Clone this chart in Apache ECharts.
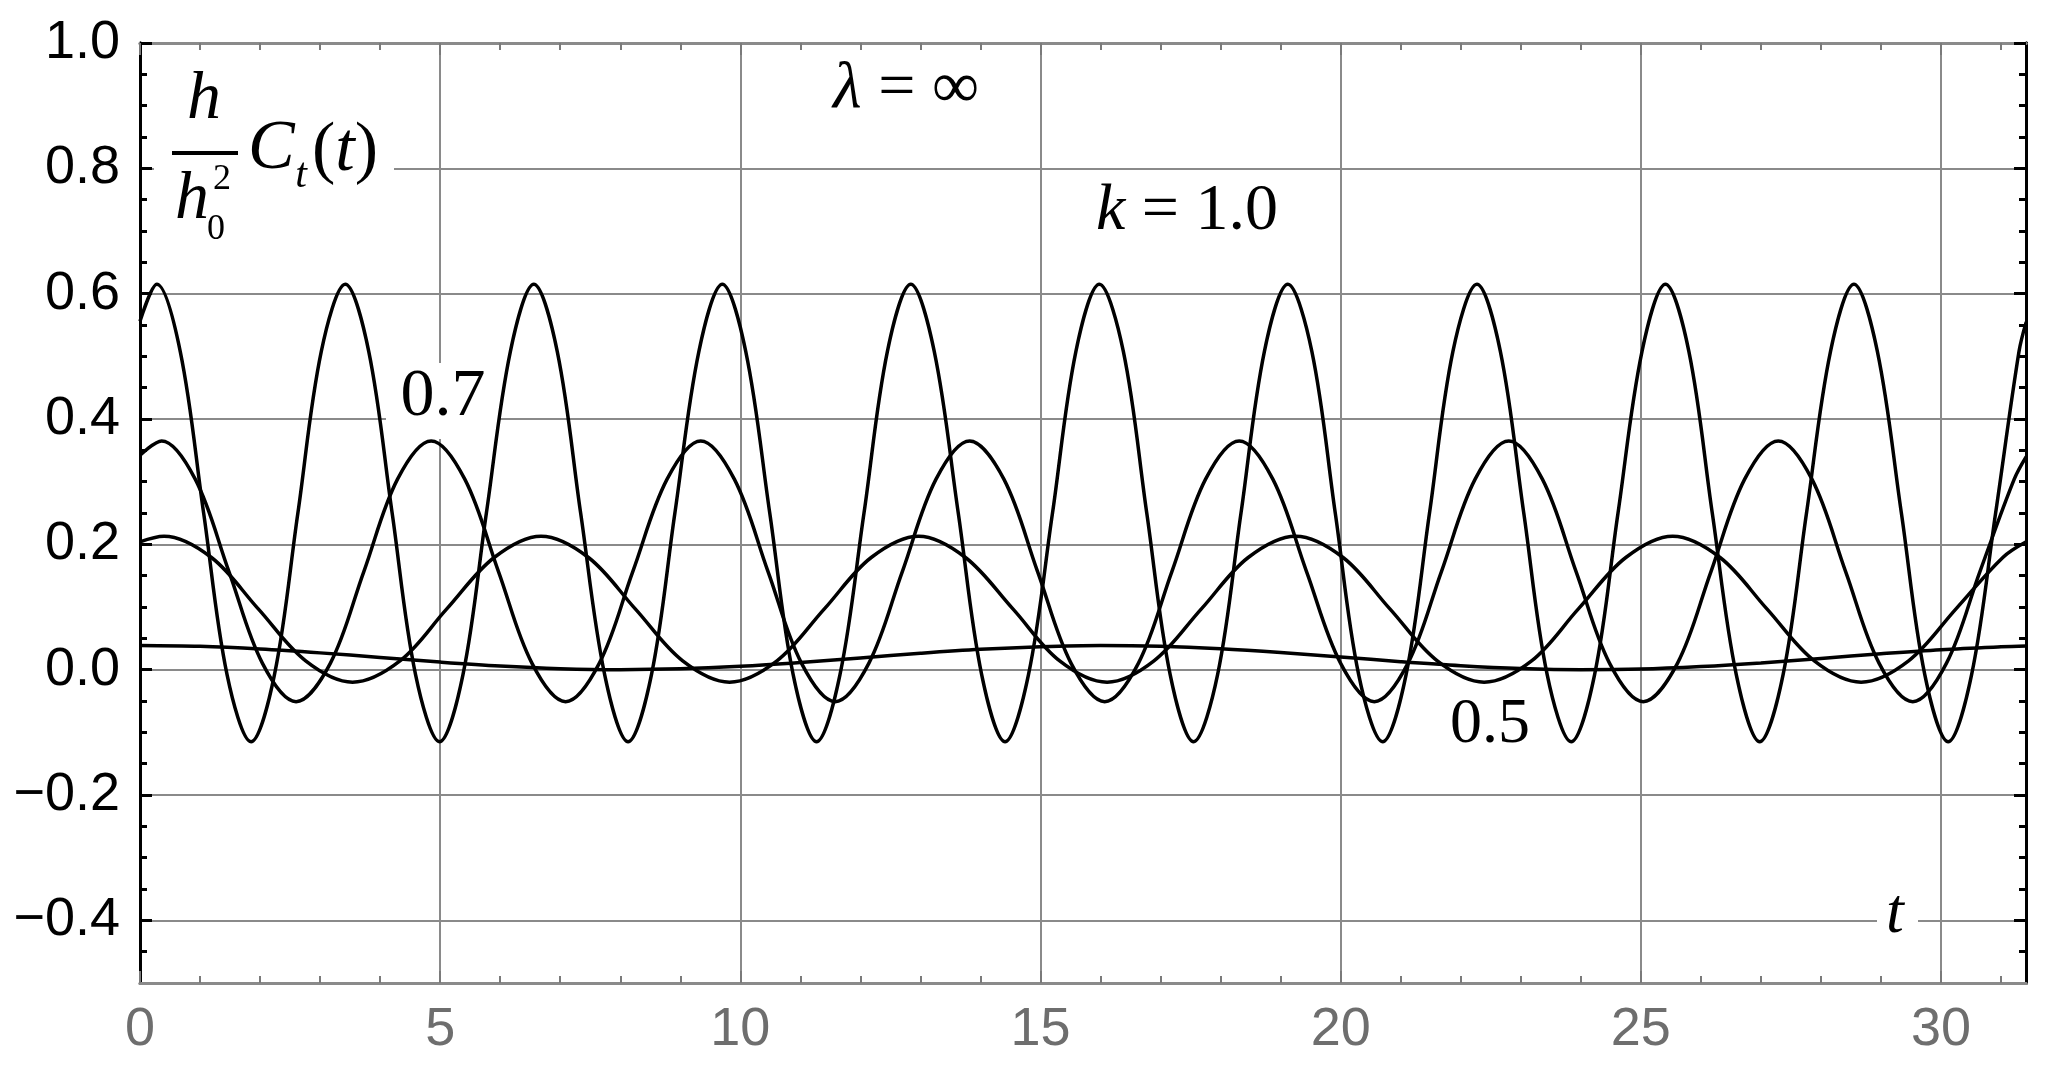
<!DOCTYPE html>
<html>
<head>
<meta charset="utf-8">
<title>C_t(t), λ = ∞</title>
<script src="https://cdn.jsdelivr.net/npm/echarts@6/dist/echarts.min.js"></script>
<style>
  html, body { margin: 0; padding: 0; background: #fff; }
  #chart { width: 2049px; height: 1070px; }
</style>
</head>
<body>
<div id="chart"></div>
<script>
// values: t and (h/h0^2) C_t(t)
// k = 1.0
const tA = [0, 0.28, 0.67, 1.06, 1.45, 1.85, 2.24, 2.63, 3.02, 3.42, 3.81, 4.20, 4.59, 4.99, 5.38, 5.77, 6.17,
  6.56, 6.95, 7.34, 7.74, 8.13, 8.52, 8.91, 9.31, 9.70, 10.09, 10.49, 10.88, 11.27, 11.66, 12.06, 12.45,
  12.84, 13.23, 13.63, 14.02, 14.41, 14.80, 15.20, 15.59, 15.98, 16.38, 16.77, 17.16, 17.55, 17.95, 18.34, 18.73,
  19.12, 19.52, 19.91, 20.30, 20.70, 21.09, 21.48, 21.87, 22.27, 22.66, 23.05, 23.44, 23.84, 24.23, 24.62, 25.02,
  25.41, 25.80, 26.19, 26.59, 26.98, 27.37, 27.76, 28.16, 28.55, 28.94, 29.34, 29.73, 30.12, 30.51, 30.91, 31.30, 31.42]
const yA = [0.556,
  0.615, 0.508, 0.25, -0.008, -0.115, -0.008, 0.25, 0.508,
  0.615, 0.508, 0.25, -0.008, -0.115, -0.008, 0.25, 0.508,
  0.615, 0.508, 0.25, -0.008, -0.115, -0.008, 0.25, 0.508,
  0.615, 0.508, 0.25, -0.008, -0.115, -0.008, 0.25, 0.508,
  0.615, 0.508, 0.25, -0.008, -0.115, -0.008, 0.25, 0.508,
  0.615, 0.508, 0.25, -0.008, -0.115, -0.008, 0.25, 0.508,
  0.615, 0.508, 0.25, -0.008, -0.115, -0.008, 0.25, 0.508,
  0.615, 0.508, 0.25, -0.008, -0.115, -0.008, 0.25, 0.508,
  0.615, 0.508, 0.25, -0.008, -0.115, -0.008, 0.25, 0.508,
  0.615, 0.508, 0.25, -0.008, -0.115, -0.008, 0.25, 0.508,
  0.555]

// k = 0.7
const tB = [0, 0.36, 0.92, 1.48, 2.04, 2.60, 3.17, 3.73, 4.29, 4.85, 5.41, 5.97, 6.53, 7.09, 7.65, 8.21, 8.78,
  9.34, 9.90, 10.46, 11.02, 11.58, 12.14, 12.70, 13.26, 13.82, 14.39, 14.95, 15.51, 16.07, 16.63, 17.19, 17.75,
  18.31, 18.87, 19.43, 20.00, 20.56, 21.12, 21.68, 22.24, 22.80, 23.36, 23.92, 24.48, 25.04, 25.61, 26.17, 26.73,
  27.29, 27.85, 28.41, 28.97, 29.53, 30.09, 30.65, 31.22, 31.42]
const yB = [0.342,
  0.365, 0.304, 0.157, 0.010, -0.051, 0.010, 0.157, 0.304,
  0.365, 0.304, 0.157, 0.010, -0.051, 0.010, 0.157, 0.304,
  0.365, 0.304, 0.157, 0.010, -0.051, 0.010, 0.157, 0.304,
  0.365, 0.304, 0.157, 0.010, -0.051, 0.010, 0.157, 0.304,
  0.365, 0.304, 0.157, 0.010, -0.051, 0.010, 0.157, 0.304,
  0.365, 0.304, 0.157, 0.010, -0.051, 0.010, 0.157, 0.304,
  0.365, 0.304, 0.157, 0.010, -0.051, 0.010, 0.157, 0.304,
  0.340]

// k = 0.5
const tC = [0, 0.40, 1.19, 1.97, 2.76, 3.54, 4.33, 5.11, 5.90, 6.68, 7.47, 8.25, 9.04, 9.82, 10.61, 11.40, 12.18,
  12.97, 13.75, 14.54, 15.32, 16.11, 16.89, 17.68, 18.46, 19.25, 20.04, 20.82, 21.61, 22.39, 23.18, 23.96, 24.75,
  25.53, 26.32, 27.10, 27.89, 28.67, 29.46, 30.25, 31.03, 31.42]
const yC = [0.204,
  0.213, 0.179, 0.097, 0.014, -0.020, 0.014, 0.097, 0.179,
  0.213, 0.179, 0.097, 0.014, -0.020, 0.014, 0.097, 0.179,
  0.213, 0.179, 0.097, 0.014, -0.020, 0.014, 0.097, 0.179,
  0.213, 0.179, 0.097, 0.014, -0.020, 0.014, 0.097, 0.179,
  0.213, 0.179, 0.097, 0.014, -0.020, 0.014, 0.097, 0.179,
  0.204]

// flat curve near zero
const tD = [0, 1, 2, 3, 4, 5, 6, 7, 8, 9, 10, 11, 12, 13, 14, 15, 16, 17, 18, 19, 20, 21, 22, 23, 24, 25, 26, 27,
  28, 29, 30, 31, 31.42]
const yD = [0.0385, 0.0372, 0.0330, 0.0268, 0.0195, 0.0121, 0.0058, 0.0016, 0.0000, 0.0013, 0.0053, 0.0114,
  0.0187, 0.0261, 0.0324, 0.0366, 0.0386, 0.0374, 0.0335, 0.0275, 0.0202, 0.0128, 0.0064, 0.0019, 0.0000,
  0.0010, 0.0050, 0.0108, 0.0180, 0.0254, 0.0319, 0.0364, 0.0377]

// ticks
const xMajor = [0, 5, 10, 15, 20, 25, 30]
const xMinor = [1, 2, 3, 4, 6, 7, 8, 9, 11, 12, 13, 14, 16, 17, 18, 19, 21, 22, 23, 24, 26, 27, 28, 29, 31]
const yMajor = [-0.4, -0.2, 0, 0.2, 0.4, 0.6, 0.8, 1.0]
const yMinor = [-0.45, -0.35, -0.3, -0.25, -0.15, -0.1, -0.05, 0.05, 0.1, 0.15, 0.25, 0.3, 0.35, 0.45, 0.5,
  0.55, 0.65, 0.7, 0.75, 0.85, 0.9, 0.95]

const T_MAX = 31.416
const Y_MIN = -0.5
const Y_MAX = 1.0

const chart = echarts.init(document.getElementById('chart'))

const gridGray = '#8a8a8a'
const serif = '"Liberation Serif", "Times New Roman", serif'

const xAx = (pos, ticks, len, withLabels) => ({
  type: 'value', min: 0, max: T_MAX, position: pos,
  axisLine: { show: true, onZero: false, lineStyle: { color: '#8a8a8a', width: 3 } },
  axisTick: { show: true, inside: true, length: len, customValues: ticks, lineStyle: { color: '#7a7a7a', width: 2 } },
  axisLabel: withLabels
    ? { show: true, customValues: ticks, color: '#6e6e6e', fontSize: 54, fontFamily: 'Liberation Sans', margin: 20 }
    : { show: false },
  splitLine: { show: withLabels, lineStyle: { color: gridGray, width: 2 } }
})

const yAx = (pos, ticks, len, withLabels) => ({
  type: 'value', min: Y_MIN, max: Y_MAX, position: pos, splitNumber: 8,
  axisLine: { show: true, onZero: false, lineStyle: { color: '#000', width: 3 } },
  axisTick: { show: true, inside: true, length: len, customValues: ticks, lineStyle: { color: '#000', width: 3 } },
  axisLabel: withLabels
    ? {
        show: true, customValues: ticks, color: '#000', fontSize: 54, fontFamily: 'Liberation Sans', margin: 20,
        formatter: v => (v < 0 ? '\u2212' : '') + Math.abs(v).toFixed(1)
      }
    : { show: false },
  splitLine: { show: withLabels, lineStyle: { color: gridGray, width: 2 } }
})

const lineSeries = (ts, ys) => ({
  type: 'line',
  xAxisIndex: 0,
  yAxisIndex: 0,
  data: ts.map((t, i) => [t, ys[i]]),
  smooth: 0.35,
  showSymbol: false,
  symbol: 'none',
  clip: true,
  lineStyle: { color: '#000', width: 3.5 },
  z: 3
})

const txt = (text, x, y, size, opts = {}) => ({
  type: 'text',
  z: 5,
  style: {
    text, x, y,
    font: (opts.italic ? 'italic ' : '') + size + 'px ' + serif,
    fill: '#000',
    align: opts.align || 'center',
    verticalAlign: 'middle'
  }
})

const richTxt = (text, x, y, size, align) => ({
  type: 'text', z: 5,
  style: {
    text, x, y,
    font: size + 'px ' + serif, fill: '#000', align, verticalAlign: 'middle',
    rich: { i: { fontStyle: 'italic', fontSize: size, fontFamily: serif } }
  }
})

const whiteBox = (x, y, w, h) => ({
  type: 'rect', z: 1, silent: true,
  shape: { x, y, width: w, height: h },
  style: { fill: '#fff' }
})

chart.setOption({
  animation: false,
  backgroundColor: '#fff',
  grid: { left: 140, right: 23, top: 43, bottom: 87, containLabel: false },
  xAxis: [
    xAx('bottom', xMajor, 12, true),
    xAx('bottom', xMinor, 7, false),
    xAx('top', xMajor, 12, false),
    xAx('top', xMinor, 7, false)
  ],
  yAxis: [
    yAx('left', yMajor, 12, true),
    yAx('left', yMinor, 7, false),
    yAx('right', yMajor, 12, false),
    yAx('right', yMinor, 7, false)
  ],
  series: [
    lineSeries(tA, yA),
    lineSeries(tB, yB),
    lineSeries(tC, yC),
    lineSeries(tD, yD)
  ],
  graphic: [
    // gaps in grid lines behind the annotations
    whiteBox(154, 160, 240, 16),
    whiteBox(386, 363, 112, 76),
    whiteBox(1877, 905, 41, 25),
    // y label: h / h0^2 C_t(t)
    txt('h', 204, 100, 68, { italic: true }),
    {
      type: 'line', z: 5,
      shape: { x1: 172, y1: 153, x2: 238, y2: 153 },
      style: { stroke: '#000', lineWidth: 4 }
    },
    txt('h', 192, 200, 68, { italic: true }),
    txt('0', 216, 230, 36),
    txt('2', 222, 180, 36),
    txt('C', 248, 150, 70, { italic: true, align: 'left' }),
    txt('t', 301, 176, 42, { italic: true }),
    richTxt('({i|t})', 312, 152, 70, 'left'),
    // annotations
    richTxt('{i|λ} = ∞', 906, 90, 66, 'center'),
    richTxt('{i|k} = 1.0', 1187, 212, 66, 'center'),
    txt('0.7', 443, 397, 68),
    txt('0.5', 1490, 725, 64),
    txt('t', 1895, 915, 64, { italic: true })
  ]
})

window.addEventListener('resize', () => chart.resize())
</script>
</body>
</html>
